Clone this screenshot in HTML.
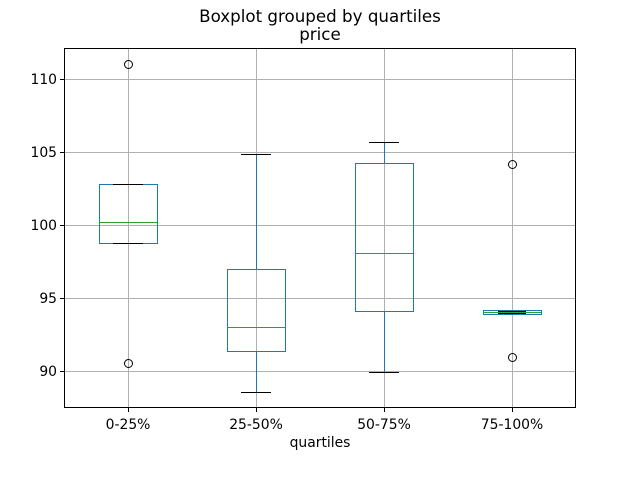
<!DOCTYPE html>
<html><head><meta charset="utf-8"><style>html,body{margin:0;padding:0;background:#fff}</style></head>
<body>
<svg width="640" height="480" xmlns="http://www.w3.org/2000/svg" font-family="DejaVu Sans, Liberation Sans, sans-serif" font-size="13.9">
<rect width="640" height="480" fill="#fff"/>
<g stroke="#b0b0b0" stroke-width="1">
<line x1="128.5" y1="48" x2="128.5" y2="408"/><line x1="256.5" y1="48" x2="256.5" y2="408"/>
<line x1="384.5" y1="48" x2="384.5" y2="408"/><line x1="512.5" y1="48" x2="512.5" y2="408"/>
<line x1="64" y1="79.5" x2="576" y2="79.5"/><line x1="64" y1="152.5" x2="576" y2="152.5"/>
<line x1="64" y1="225.5" x2="576" y2="225.5"/><line x1="64" y1="298.5" x2="576" y2="298.5"/>
<line x1="64" y1="371.5" x2="576" y2="371.5"/>
</g>
<g stroke="#1f77b4" stroke-width="1" fill="none">
<rect x="99.5" y="184.5" width="58" height="59"/>
<rect x="227.5" y="269.5" width="58" height="82"/>
<line x1="256.5" y1="154" x2="256.5" y2="269"/><line x1="256.5" y1="351" x2="256.5" y2="392"/>
<rect x="355.5" y="163.5" width="58" height="148"/>
<line x1="384.5" y1="142" x2="384.5" y2="163"/><line x1="384.5" y1="311" x2="384.5" y2="372"/>
<rect x="483.5" y="310.5" width="58" height="4"/>
</g>
<g stroke="#000" stroke-width="1">
<line x1="113" y1="184.5" x2="143" y2="184.5"/><line x1="113" y1="243.5" x2="143" y2="243.5"/>
<line x1="241" y1="154.5" x2="271" y2="154.5"/><line x1="241" y1="392.5" x2="271" y2="392.5"/>
<line x1="369" y1="142.5" x2="399" y2="142.5"/><line x1="369" y1="372.5" x2="399" y2="372.5"/>
<line x1="498" y1="311.5" x2="526" y2="311.5"/><line x1="498" y1="313.5" x2="526" y2="313.5"/>
</g>
<g stroke="#2ca02c" stroke-width="1">
<line x1="99" y1="222.5" x2="157" y2="222.5"/>
<line x1="227" y1="327.5" x2="285" y2="327.5"/>
<line x1="355" y1="253.5" x2="413" y2="253.5"/>
<line x1="483" y1="312.5" x2="541" y2="312.5"/>
</g>
<g stroke="#000" fill="none" stroke-width="1">
<circle cx="128.5" cy="64.5" r="4"/><circle cx="128.5" cy="363.5" r="4"/>
<circle cx="512.5" cy="164.5" r="4"/><circle cx="512.5" cy="357.5" r="4"/>
</g>
<rect x="64.5" y="48.5" width="511" height="359" fill="none" stroke="#000" stroke-width="1"/>
<g stroke="#000" stroke-width="1">
<line x1="60" y1="79.5" x2="64" y2="79.5"/><line x1="60" y1="152.5" x2="64" y2="152.5"/>
<line x1="60" y1="225.5" x2="64" y2="225.5"/><line x1="60" y1="298.5" x2="64" y2="298.5"/>
<line x1="60" y1="371.5" x2="64" y2="371.5"/>
<line x1="128.5" y1="408" x2="128.5" y2="412"/><line x1="256.5" y1="408" x2="256.5" y2="412"/>
<line x1="384.5" y1="408" x2="384.5" y2="412"/><line x1="512.5" y1="408" x2="512.5" y2="412"/>
</g>
<g text-anchor="end" fill="#000">
<text x="57" y="84">110</text><text x="57" y="157">105</text><text x="57" y="230">100</text>
<text x="57" y="303">95</text><text x="57" y="376">90</text>
</g>
<g text-anchor="middle" fill="#000">
<text x="128" y="429">0-25%</text><text x="256" y="429">25-50%</text>
<text x="384" y="429">50-75%</text><text x="512" y="429">75-100%</text>
<text x="320" y="447">quartiles</text>
<text x="320" y="22" font-size="16.7">Boxplot grouped by quartiles</text>
<text x="320" y="40" font-size="16.7">price</text>
</g>
</svg>
</body></html>
